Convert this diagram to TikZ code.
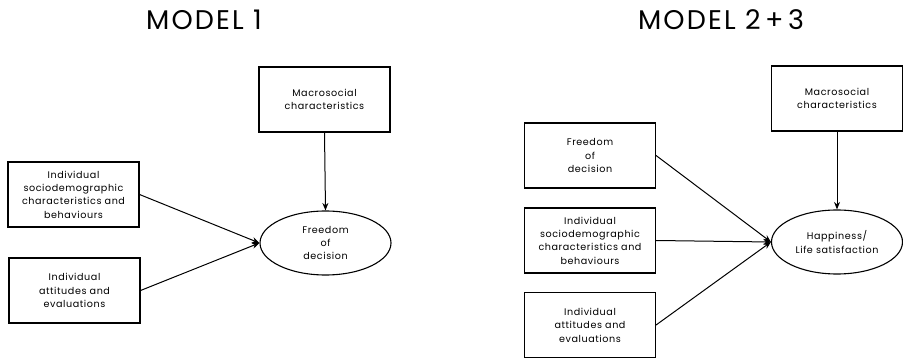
\documentclass[tikz,border=0pt]{standalone}
\usepackage{fontspec}
\setmainfont{Poppins}
\newfontfamily\titlefont[LetterSpace=8]{Poppins}
\newfontfamily\bodyfont[LetterSpace=6]{Poppins}
\usetikzlibrary{arrows.meta,shapes.geometric}
\begin{document}
\begin{tikzpicture}[x=1pt,y=-1pt,
  box/.style={draw, line width=1.1pt, rectangle, minimum width=131pt, minimum height=65pt, inner sep=0pt,
    align=center, font=\bodyfont\fontsize{9.6}{13.4}\selectfont},
  oval/.style={draw, line width=1.1pt, ellipse, minimum width=131pt, minimum height=64pt, inner sep=0pt,
    align=center, font=\bodyfont\fontsize{9.6}{13.4}\selectfont},
  title/.style={font=\titlefont\fontsize{27}{32}\selectfont},
  conn/.style={line width=1pt, -{Stealth[length=7.5pt,width=6pt]}}]
\useasboundingbox (0,0) rectangle (903,358);
% Model 1
\node[title] (t1) at (204,20) {MODEL 1};
\node[box] (m1macro) at (324.5,99.5) {Macrosocial\\characteristics};
\node[box] (m1socio) at (73.5,194.5) {Individual\\sociodemographic\\characteristics and\\behaviours};
\node[box] (m1att) at (74.5,290.5) {Individual\\attitudes and\\evaluations};
\node[oval] (m1free) at (325.5,243) {Freedom\\of\\decision};
\draw[conn] (m1macro.south) -- (m1free.north);
\draw[conn] (m1socio.east) -- (m1free.west);
\draw[conn] (m1att.east) -- (m1free.west);
% Model 2+3
\node[title] (t2) at (721,20) {MODEL 2{\,}+{\,}3};
\node[box] (m2macro) at (837,98.5) {Macrosocial\\characteristics};
\node[box] (m2free) at (590,155.5) {Freedom\\of\\decision};
\node[box] (m2socio) at (590,240.5) {Individual\\sociodemographic\\characteristics and\\behaviours};
\node[box] (m2att) at (590,325) {Individual\\attitudes and\\evaluations};
\node[oval] (m2happy) at (837,242) {Happiness/\\Life satisfaction};
\draw[conn] (m2macro.south) -- (m2happy.north);
\draw[conn] (m2free.east) -- (m2happy.west);
\draw[conn] (m2socio.east) -- (m2happy.west);
\draw[conn] (m2att.east) -- (m2happy.west);
\end{tikzpicture}
\end{document}
